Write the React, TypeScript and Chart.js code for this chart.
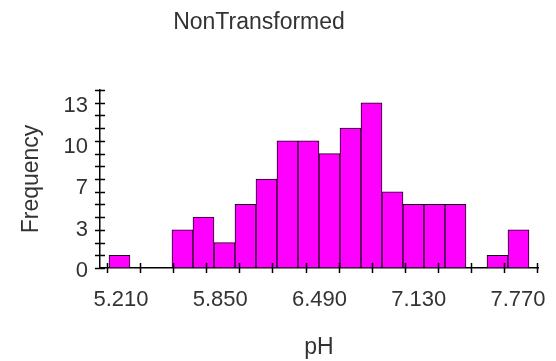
import React, { useEffect, useRef } from "react";
import { Chart, registerables } from "chart.js";

Chart.register(...registerables);

// Histogram of pH (bin centres) and their frequencies
const binCenters = [
  5.2906, 5.426, 5.5614, 5.6968, 5.8322, 5.9676, 6.103, 6.2384, 6.3738, 6.5092,
  6.6446, 6.78, 6.9154, 7.0508, 7.1862, 7.3216, 7.457, 7.5924, 7.7278, 7.8632,
];
const frequencies = [1, 0, 0, 3, 4, 2, 5, 7, 10, 10, 9, 11, 13, 6, 5, 5, 5, 0, 1, 3];

// Axis ticks
const xTickValues = [
  5.21, 5.4233, 5.6367, 5.85, 6.0633, 6.2767, 6.49, 6.7033, 6.9167, 7.13, 7.3433,
  7.5567, 7.77, 7.9833,
];
const xLabelValues = [5.21, 5.85, 6.49, 7.13, 7.77];
const yLabelValues = [0, 3.25, 6.5, 9.75, 13];
const yMinorTicks = [0, 1, 2, 3, 4, 5, 6, 7, 8, 9, 10, 11, 12, 13, 14];

const TITLE = "NonTransformed";
const X_TITLE = "pH";
const Y_TITLE = "Frequency";

const FONT = "'Liberation Sans', Arial, sans-serif";
const TEXT = "#333333";

const decorPlugin = {
  id: "decor",
  afterDraw(chart: any) {
    const { ctx, scales } = chart;
    const x = scales.x;
    const y = scales.y;
    ctx.save();
    ctx.strokeStyle = "#000";
    ctx.lineWidth = 1.5;
    const base = y.getPixelForValue(0);
    xTickValues.forEach((v) => {
      const px = Math.round(x.getPixelForValue(v)) + 0.5;
      ctx.beginPath();
      ctx.moveTo(px, base - 5);
      ctx.lineTo(px, base + 5);
      ctx.stroke();
    });
    const left = x.left;
    yMinorTicks.forEach((v) => {
      const py = Math.round(y.getPixelForValue(v)) + 0.5;
      ctx.beginPath();
      ctx.moveTo(left - 5, py);
      ctx.lineTo(left + 5, py);
      ctx.stroke();
    });
    ctx.fillStyle = TEXT;
    ctx.font = `23px ${FONT}`;
    ctx.textAlign = "center";
    ctx.textBaseline = "middle";
    ctx.fillText(TITLE, 259, 23);
    ctx.restore();
  },
};

export default function App() {
  const ref = useRef<HTMLCanvasElement | null>(null);

  useEffect(() => {
    if (!ref.current) return;
    const chart = new Chart(ref.current, {
      type: "bar",
      data: {
        datasets: [
          {
            data: binCenters.map((c, i) => ({ x: c, y: frequencies[i] })),
            backgroundColor: "#ff00ff",
            borderColor: "#1a001a",
            borderWidth: 1,
            borderSkipped: false,
            barPercentage: 1,
            categoryPercentage: 1,
          },
        ],
      },
      options: {
        animation: false,
        responsive: true,
        maintainAspectRatio: false,
        layout: { padding: { top: 90, right: 18, left: 0, bottom: 0 } },
        plugins: {
          legend: { display: false },
          title: { display: false },
          tooltip: { enabled: false },
        },
        scales: {
          x: {
            type: "linear",
            offset: false,
            min: 5.165,
            max: 7.989,
            grid: { display: false, drawTicks: false, offset: false },
            border: { display: true, color: "#000", width: 1.5 },
            afterBuildTicks: (scale: any) => {
              scale.ticks = xLabelValues.map((v) => ({ value: v }));
            },
            afterFit: (scale: any) => {
              scale.height = 93;
            },
            ticks: {
              autoSkip: false,
              maxRotation: 0,
              padding: 19,
              labelOffset: 14,
              color: TEXT,
              font: { family: FONT, size: 22 },
              callback: (v: any) => Number(v).toFixed(3),
            },
            title: {
              display: true,
              text: X_TITLE,
              color: TEXT,
              font: { family: FONT, size: 23 },
              padding: { top: 0, bottom: 0 },
            },
          },
          y: {
            type: "linear",
            min: 0,
            max: 14,
            grid: { display: false, drawTicks: false },
            border: { display: true, color: "#000", width: 1.5 },
            afterBuildTicks: (scale: any) => {
              scale.ticks = yLabelValues.map((v) => ({ value: v }));
            },
            afterFit: (scale: any) => {
              scale.width = 100;
            },
            ticks: {
              autoSkip: false,
              padding: 12,
              labelOffset: 3,
              color: TEXT,
              font: { family: FONT, size: 22 },
              callback: (v: any) => String(Math.round(Number(v))),
            },
            title: {
              display: true,
              text: Y_TITLE,
              color: TEXT,
              font: { family: FONT, size: 23 },
              padding: { top: 18, bottom: 0 },
            },
          },
        },
      },
      plugins: [decorPlugin],
    });
    return () => chart.destroy();
  }, []);

  return (
    <div style={{ position: "fixed", left: 0, top: 0, width: 556, height: 361 }}>
      <canvas ref={ref} />
    </div>
  );
}
